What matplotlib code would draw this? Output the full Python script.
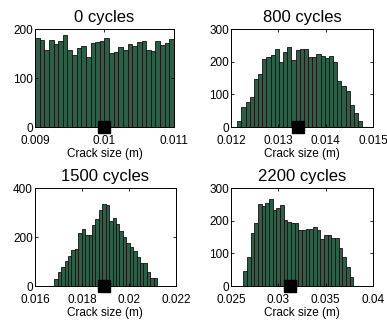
import numpy as np
import matplotlib
matplotlib.use("Agg")
import matplotlib.pyplot as plt

plt.rcParams['font.family'] = ['Liberation Sans', 'DejaVu Sans']

# histogram counts (30 bins each)
titles = ["0 cycles", "800 cycles", "1500 cycles", "2200 cycles"]

counts_0 = [182, 177, 157, 177, 170, 175, 189, 157, 148, 161,
            165, 143, 171, 174, 176, 181, 151, 153, 163, 158,
            170, 166, 174, 175, 158, 156, 176, 167, 172, 179]
counts_800 = [20, 61, 76, 93, 147, 164, 207, 216, 222, 238,
              200, 229, 246, 204, 236, 240, 240, 214, 214, 225,
              218, 213, 217, 200, 142, 125, 111, 66, 42, 19]
counts_1500 = [27, 56, 76, 102, 122, 147, 152, 218, 233, 208,
               208, 249, 276, 310, 337, 330, 265, 279, 252, 224,
               201, 174, 160, 144, 118, 93, 93, 59, 31, 31]
counts_2200 = [45, 88, 163, 192, 252, 244, 254, 267, 233, 239,
               249, 202, 195, 192, 192, 171, 173, 174, 174, 181,
               171, 145, 158, 158, 148, 148, 117, 88, 57, 29]
all_counts = [counts_0, counts_800, counts_1500, counts_2200]

# range covered by the bins
bin_lo = [0.009, 0.01213, 0.01682, 0.0263]
bin_hi = [0.011, 0.01477, 0.0212, 0.0379]

# true crack size (black square)
true_size = [0.01, 0.01341, 0.01894, 0.03121]

xlims = [(0.009, 0.011), (0.012, 0.015), (0.016, 0.022), (0.025, 0.04)]
xticks = [[0.009, 0.01, 0.011],
          [0.012, 0.013, 0.014, 0.015],
          [0.016, 0.018, 0.02, 0.022],
          [0.025, 0.03, 0.035, 0.04]]
ylims = [200, 300, 400, 300]
yticks = [[0, 100, 200], [0, 100, 200, 300], [0, 200, 400], [0, 100, 200, 300]]

# axes boxes in figure fractions [left, bottom, width, height]
boxes = [[0.0904, 0.603, 0.359, 0.306],
         [0.597, 0.603, 0.367, 0.306],
         [0.0904, 0.106, 0.364, 0.306],
         [0.597, 0.106, 0.367, 0.306]]

fig = plt.figure(figsize=(3.87, 3.2), dpi=100)

for i in range(4):
    ax = fig.add_axes(boxes[i])
    counts = np.array(all_counts[i])
    edges = np.linspace(bin_lo[i], bin_hi[i], len(counts) + 1)
    ax.bar(edges[:-1], counts, width=np.diff(edges), align='edge',
           color='#2e5e46', edgecolor='#111111', linewidth=0.6)
    ax.plot([true_size[i]], [0], 's', color='black', markersize=8,
            clip_on=False, zorder=5)
    ax.set_xlim(*xlims[i])
    ax.set_ylim(0, ylims[i])
    ax.set_xticks(xticks[i])
    ax.set_xticklabels([f"{v:g}" for v in xticks[i]])
    ax.set_yticks(yticks[i])
    ax.tick_params(direction='in', length=2.5, width=0.6, labelsize=8.5,
                   top=True, right=True)
    ax.tick_params(axis='x', pad=5.5)
    ax.tick_params(axis='y', pad=1.5)
    for s in ax.spines.values():
        s.set_linewidth(0.7)
    ax.set_title(titles[i], fontsize=12, pad=5)
    ax.set_xlabel("Crack size (m)", fontsize=8.5, labelpad=1)

fig.savefig("out.png", dpi=100)
